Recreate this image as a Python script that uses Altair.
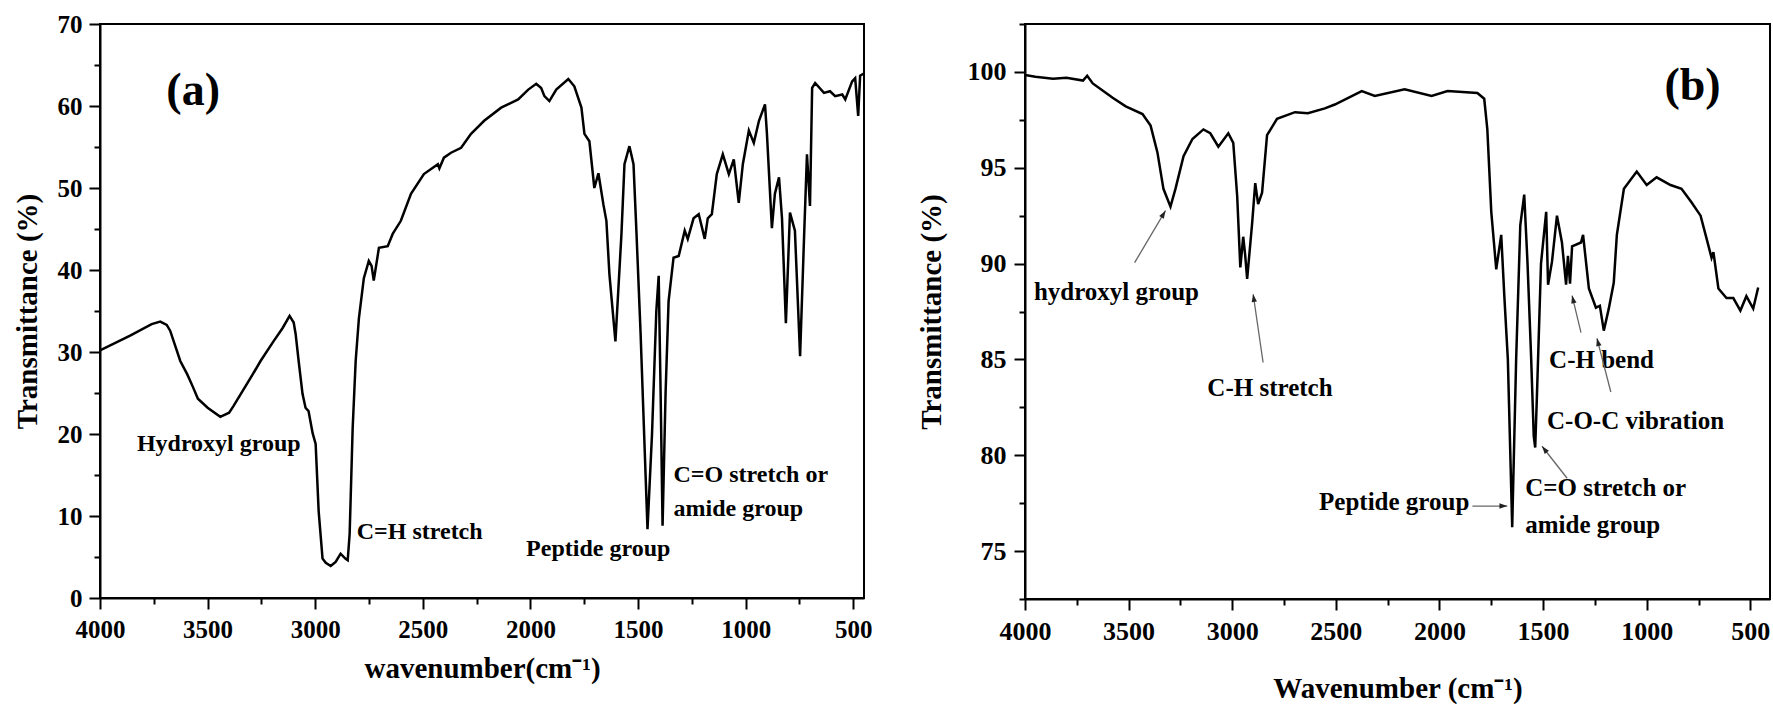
import math
import altair as alt
import pandas as pd

# ---------------- panel (a) spectrum ----------------
a_wn = [4000, 3860, 3760, 3720, 3690, 3674, 3627, 3595, 3571, 3545, 3500, 3441, 3400, 3380,
        3301, 3254, 3194, 3152, 3119, 3100, 3091, 3077, 3059, 3045, 3031, 3012, 2998, 2984,
        2966, 2951, 2928, 2905, 2882, 2860, 2849, 2840, 2826, 2812, 2797, 2774, 2751, 2738,
        2728, 2704, 2663, 2640, 2602, 2555, 2495, 2430, 2423, 2402, 2369, 2322, 2276, 2215,
        2136, 2057, 2010, 1973, 1950, 1935, 1912, 1880, 1824, 1796, 1763, 1749, 1726, 1703,
        1684, 1661, 1647, 1633, 1605, 1577, 1563, 1540, 1521, 1507, 1488, 1456, 1435, 1415,
        1404, 1395, 1386, 1372, 1358, 1335, 1311, 1283, 1269, 1242, 1218, 1190, 1176, 1157,
        1134, 1106, 1078, 1055, 1032, 1013, 985, 962, 938, 910, 901, 878, 864, 845, 831, 813,
        794, 771, 747, 728, 715, 701, 691, 677, 636, 608, 584, 551, 537, 505, 491, 477, 468, 449]
a_tr = [30.2, 32.0, 33.4, 33.7, 33.3, 32.6, 28.9, 27.3, 25.9, 24.3, 23.2, 22.1, 22.6, 23.4,
        26.8, 28.9, 31.3, 32.9, 34.4, 33.6, 32.2, 28.9, 24.9, 23.2, 22.8, 20.1, 18.8, 10.6,
        4.8, 4.3, 3.9, 4.4, 5.4, 4.8, 4.6, 7.8, 20.7, 28.9, 34.1, 39.0, 41.1, 40.5,
        38.7, 42.7, 42.9, 44.4, 46.0, 49.3, 51.7, 52.9, 52.4, 53.7, 54.3, 54.9, 56.6, 58.2,
        59.8, 60.8, 62.0, 62.7, 62.2, 61.2, 60.6, 62.0, 63.3, 62.4, 59.8, 56.6, 55.7, 50.0,
        51.8, 48.0, 46.0, 39.5, 31.3, 44.4, 52.9, 55.1, 52.9, 44.4, 32.2, 8.4, 20.0, 35.0,
        39.3, 25.0, 8.8, 25.0, 36.2, 41.5, 41.7, 44.8, 43.8, 46.3, 46.8, 43.8, 46.3, 46.8,
        51.7, 54.1, 51.7, 53.5, 48.2, 52.9, 57.0, 55.5, 58.2, 60.2, 56.6, 45.1, 49.3, 51.3, 46.3, 33.5,
        47.0, 44.8, 29.5, 44.4, 54.1, 47.8, 62.2, 62.8, 61.6, 61.8, 61.2, 61.4, 60.8, 63.0, 63.4, 58.8, 63.7, 64.0]

# ---------------- panel (b) spectrum ----------------
b_wn = [4000, 3950, 3865, 3800, 3720, 3700, 3673, 3577, 3514, 3433, 3394, 3361, 3332, 3298,
        3274, 3235, 3192, 3139, 3106, 3067, 3019, 2995, 2976, 2961, 2947, 2938, 2928, 2904,
        2889, 2875, 2856, 2832, 2784, 2697, 2635, 2553, 2505, 2375, 2312, 2168, 2038, 1961,
        1817, 1784, 1769, 1750, 1726, 1702, 1687, 1670, 1649, 1630, 1610, 1591, 1575, 1558,
        1545, 1538, 1530, 1510, 1485, 1476, 1457, 1433, 1409, 1389, 1380, 1370, 1360, 1317,
        1307, 1279, 1245, 1226, 1207, 1183, 1159, 1144, 1110, 1048, 1000, 952, 885, 832, 784,
        740, 711, 687, 678, 654, 615, 582, 548, 519, 486, 462]
b_tr = [99.84, 99.75, 99.65, 99.7, 99.55, 99.8, 99.4, 98.65, 98.2, 97.8, 97.2, 95.8, 93.9, 92.97,
        93.9, 95.6, 96.5, 97.0, 96.8, 96.1, 96.8, 96.3, 93.5, 89.8, 91.4, 90.5, 89.2, 92.1,
        94.2, 93.1, 93.7, 96.7, 97.55, 97.9, 97.85, 98.1, 98.3, 99.0, 98.75, 99.1, 98.75, 99.0,
        98.9, 98.6, 97.0, 92.7, 89.7, 91.5, 88.3, 85.0, 76.25, 85.0, 92.0, 93.6, 90.0, 85.2,
        81.0, 80.4, 83.0, 90.0, 92.7, 88.9, 90.1, 92.5, 91.1, 88.9, 90.4, 88.95, 90.9, 91.1,
        91.5, 88.7, 87.7, 87.8, 86.5, 87.65, 89.0, 91.5, 93.9, 94.8, 94.1, 94.5, 94.1, 93.9, 93.2,
        92.5, 91.3, 90.3, 90.6, 88.7, 88.2, 88.2, 87.55, 88.3, 87.65, 88.75]

# ---------------- annotations ----------------
a_text = ["(a)", "Hydroxyl group", "C=H stretch", "Peptide group", "C=O stretch or", "amide group"]
a_text_wn = [3567, 3448, 2807, 2020, 1335, 1335]
a_text_tr = [61.8, 18.8, 8.05, 6.0, 15.0, 10.9]
a_text_align = ["center", "center", "left", "left", "left", "left"]
a_text_size = [46, 24, 24, 24, 24, 24]

b_text = ["(b)", "hydroxyl group", "C-H stretch", "Peptide group", "C=O stretch or",
          "amide group", "C-H bend", "C-O-C vibration"]
b_text_wn = [779, 3957, 3120, 1856, 1586, 1586, 1471, 1481]
b_text_tr = [99.27, 88.5, 83.5, 77.55, 78.3, 76.35, 84.95, 81.8]
b_text_align = ["center", "left", "left", "right", "left", "left", "left", "left"]
b_text_size = [46, 25, 25, 25, 25, 25, 25, 25]

# arrows in panel (b): start -> tip
b_arr_wn1 = [3471, 2851, 1841, 1384, 1317, 1173]
b_arr_tr1 = [90.05, 84.84, 77.35, 78.8, 86.4, 83.3]
b_arr_wn2 = [3322, 2899, 1673, 1505, 1360, 1240]
b_arr_tr2 = [92.76, 88.4, 77.35, 80.47, 88.33, 86.1]

FONT = "Liberation Serif"
A_W, A_H = 764, 574
B_W, B_H = 745, 575
A_XD, A_YD = [4000, 450], [0, 70]
B_XD, B_YD = [4000, 405], [72.5, 102.5]


def make_axis(values, major_test, title, label_size, title_size, label_pad, title_pad, orient):
    return alt.Axis(
        values=values,
        labelExpr=f"{major_test} ? datum.label : ''",
        format="d" if orient == "x" else "",
        title=title,
        grid=False,
        labelFont=FONT, titleFont=FONT,
        labelFontWeight="bold", titleFontWeight="bold",
        labelFontSize=label_size, titleFontSize=title_size,
        labelColor="black", titleColor="black",
        domainColor="black", domainWidth=2,
        tickColor="black", tickWidth=2,
        tickSize={"condition": {"test": major_test, "value": 11}, "value": 6},
        labelPadding=label_pad, titlePadding=title_pad,
        labelOverlap=False, labelFlush=False,
    )


def panel(wn, tr, xd, yd, w, h, xvals, xtest, yvals, ytest, xtitle, ytitle,
          lab_size, xt_pad, yt_pad, ylab_pad, txt, txt_wn, txt_tr, txt_align, txt_size,
          arrows=None):
    df = pd.DataFrame({"wn": wn, "tr": tr})
    xs = alt.Scale(domain=xd, nice=False, zero=False)
    ys = alt.Scale(domain=yd, nice=False, zero=False)
    xa = make_axis(xvals, xtest, xtitle, lab_size, 29, 8, xt_pad, "x")
    ya = make_axis(yvals, ytest, ytitle, lab_size, 29, ylab_pad, yt_pad, "y")
    line = alt.Chart(df).mark_line(color="black", strokeWidth=2.5, clip=True).encode(
        x=alt.X("wn:Q", scale=xs, axis=xa),
        y=alt.Y("tr:Q", scale=ys, axis=ya),
        order="wn:Q",
    )
    layers = [line]
    tdf = pd.DataFrame({"t": txt, "wn": txt_wn, "tr": txt_tr, "al": txt_align, "fs": txt_size})
    for al in ["left", "center", "right"]:
        sub = tdf[tdf["al"] == al]
        if len(sub) == 0:
            continue
        layers.append(
            alt.Chart(sub).mark_text(align=al, baseline="middle", font=FONT,
                                     fontWeight="bold", color="black").encode(
                x=alt.X("wn:Q", scale=xs),
                y=alt.Y("tr:Q", scale=ys),
                text="t:N",
                size=alt.Size("fs:Q", scale=None, legend=None),
            )
        )
    if arrows is not None:
        w1, t1, w2, t2 = arrows
        kx = w / (xd[0] - xd[1])
        ky = h / (yd[1] - yd[0])
        angs = []
        for a, b, c, d in zip(w1, t1, w2, t2):
            dx = -(c - a) * kx
            dy = -(d - b) * ky
            angs.append(math.degrees(math.atan2(dx, -dy)) % 360)
        adf = pd.DataFrame({"w1": w1, "t1": t1, "w2": w2, "t2": t2, "ang": angs})
        layers.append(
            alt.Chart(adf).mark_rule(color="#666666", strokeWidth=1.3).encode(
                x=alt.X("w1:Q", scale=xs), y=alt.Y("t1:Q", scale=ys),
                x2="w2:Q", y2="t2:Q",
            )
        )
        layers.append(
            alt.Chart(adf).mark_point(shape="M0,0L-0.9,2.6L0.9,2.6Z", filled=True,
                                      color="#222222", opacity=1, size=36).encode(
                x=alt.X("w2:Q", scale=xs), y=alt.Y("t2:Q", scale=ys),
                angle=alt.Angle("ang:Q", scale=None),
            )
        )
    return alt.layer(*layers).properties(width=w, height=h)


x_vals = list(range(4000, 449, -250))
pa = panel(a_wn, a_tr, A_XD, A_YD, A_W, A_H,
           x_vals, "datum.value % 500 === 0",
           [v * 5 for v in range(0, 15)], "datum.value % 10 === 0",
           "wavenumber(cm⁻¹)", "Transmittance (%)",
           25, 12, 15, 7,
           a_text, a_text_wn, a_text_tr, a_text_align, a_text_size)

pb = panel(b_wn, b_tr, B_XD, B_YD, B_W, B_H,
           x_vals, "datum.value % 500 === 0",
           [72.5 + 2.5 * i for i in range(13)], "datum.value % 5 === 0",
           "Wavenumber (cm⁻¹)", "Transmittance (%)",
           26, 30, 21, 8,
           b_text, b_text_wn, b_text_tr, b_text_align, b_text_size,
           arrows=(b_arr_wn1, b_arr_tr1, b_arr_wn2, b_arr_tr2))

chart = alt.hconcat(pa, pb, spacing=43).properties(
    padding={"left": 12, "top": 10, "right": 0, "bottom": 0},
    background="white",
).configure_view(stroke="black", strokeWidth=2)

chart.save("out.html", embed_options={"renderer": "svg", "actions": False})
